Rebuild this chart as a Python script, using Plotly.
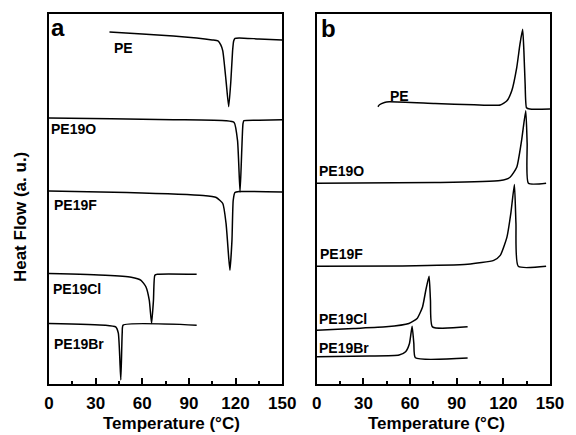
import plotly.graph_objects as go

# ---- data (temperature in degC, heat flow in arbitrary units, offset stacked) ----
# Panel a (heating/melting, endothermic dips)
a_PE_T = [38.9, 60, 80, 95, 105, 108.7, 110.5, 111.8, 113.9, 115.6, 117, 118.1, 118.8, 119.7, 122.3, 135, 150]
a_PE_H = [353, 351, 349, 347, 345, 344, 340, 334, 304, 278, 304, 334, 344, 346.5, 347, 346, 345]
a_PE19O_T = [0, 40, 80, 113.9, 119.1, 121.3, 122.9, 124.0, 124.8, 125.4, 135, 150]
a_PE19O_H = [266.7, 266, 265, 264, 262.3, 244, 192.3, 234, 261, 264, 264.5, 265]
a_PE19F_T = [0, 50, 99.2, 107.6, 111.8, 113.9, 115.6, 116.4, 117.7, 118.5, 119.6, 122.3, 150]
a_PE19F_H = [193.5, 192, 189, 187, 181, 161, 127, 114, 144, 184, 192, 193, 192.5]
a_PE19Cl_T = [0, 36.2, 52.9, 59.2, 62.4, 64.5, 66.0, 67.2, 68.1, 69.8, 95]
a_PE19Cl_H = [110.7, 109, 107, 104, 97.3, 84, 60.7, 84, 109, 110, 110]
a_PE19Br_T = [0, 36.2, 42.9, 44.6, 46.2, 47.1, 47.7, 95]
a_PE19Br_H = [60.7, 59, 57.3, 51, 4, 51, 59, 59]

# Panel b (cooling/crystallization, exothermic peaks)
b_PE_T = [39.3, 40.3, 43.5, 46.6, 76, 101.2, 118, 122.3, 125.4, 128.6, 130.7, 132.4, 133.2, 134, 134.9, 137, 150]
b_PE_H = [278, 280, 282.3, 283, 281.3, 280, 279.7, 284, 294, 317.3, 341, 355.7, 334, 301, 277, 275.7, 275.7]
b_PE19O_T = [0, 76, 118, 124.3, 128.6, 131.7, 134.4, 135.3, 136.1, 147.5]
b_PE19O_H = [201.3, 202, 204, 207.3, 217.3, 244, 274, 241, 201.3, 201.3]
b_PE19F_T = [0, 55, 97, 113.8, 118, 122.3, 124.8, 127.1, 128.1, 129.6, 147.5]
b_PE19F_H = [118, 118.3, 120, 124, 129, 147.3, 171, 200, 161, 118, 118]
b_PE19Cl_T = [0, 23.5, 44.5, 59.2, 64.5, 68, 70.1, 72.2, 73.1, 74.4, 97]
b_PE19Cl_H = [54, 55.7, 57.3, 60.7, 65.7, 77.3, 94, 108, 84, 57.3, 57.3]
b_PE19Br_T = [0, 34, 52.9, 57.1, 59.6, 61.3, 62.4, 63.4, 97]
b_PE19Br_H = [27.3, 28, 29, 32.3, 40.7, 58, 40.7, 26.3, 26]

x_ticks = [0, 30, 60, 90, 120, 150]

# label text and anchor positions
a_labels = ["PE", "PE19O", "PE19F", "PE19Cl", "PE19Br"]
a_label_T = [47.8, 0.2, 2.1, 1.5, 2.1]
a_label_H = [337, 255.7, 179, 95, 40]
b_labels = ["PE", "PE19O", "PE19F", "PE19Cl", "PE19Br"]
b_label_T = [52.9, 0.4, 0.8, 0.4, 0.4]
b_label_H = [289, 214, 130, 64.7, 35.7]

FONT = "Liberation Sans, Arial, sans-serif"

fig = go.Figure()
line = dict(color="black", width=1.5, shape="spline", smoothing=0.5)

for T, H in [(a_PE_T, a_PE_H), (a_PE19O_T, a_PE19O_H), (a_PE19F_T, a_PE19F_H),
             (a_PE19Cl_T, a_PE19Cl_H), (a_PE19Br_T, a_PE19Br_H)]:
    fig.add_trace(go.Scatter(x=T, y=H, mode="lines", line=line, xaxis="x", yaxis="y",
                             showlegend=False, hoverinfo="skip"))
for T, H in [(b_PE_T, b_PE_H), (b_PE19O_T, b_PE19O_H), (b_PE19F_T, b_PE19F_H),
             (b_PE19Cl_T, b_PE19Cl_H), (b_PE19Br_T, b_PE19Br_H)]:
    fig.add_trace(go.Scatter(x=T, y=H, mode="lines", line=line, xaxis="x2", yaxis="y2",
                             showlegend=False, hoverinfo="skip"))

xax = dict(range=[0, 150], tickvals=x_ticks, ticks="inside", ticklen=6, tickwidth=1.5,
           tickcolor="black", showline=True, linecolor="black", linewidth=2, mirror=True,
           showgrid=False, zeroline=False, ticklabelstandoff=3,
           tickfont=dict(family=FONT, size=17, color="black", weight="bold"),
           minor=dict(dtick=15, tick0=0, ticks="inside", ticklen=3, tickwidth=1.5, tickcolor="black"))
yax = dict(range=[0, 371], showticklabels=False, ticks="", showline=True, linecolor="black",
           linewidth=2, mirror=True, showgrid=False, zeroline=False)

fig.update_layout(
    width=576, height=435,
    margin=dict(l=49, r=15, t=13, b=51),
    paper_bgcolor="white", plot_bgcolor="white",
    xaxis=dict(domain=[0, 0.4654], anchor="y", **xax),
    yaxis=dict(domain=[0, 1], anchor="x", **yax),
    xaxis2=dict(domain=[0.5346, 1], anchor="y2", **xax),
    yaxis2=dict(domain=[0, 1], anchor="x2", **yax),
)

ann = []
lab_font = dict(family=FONT, size=14, color="black", weight="bold")
for i, (t, x, y) in enumerate(zip(a_labels, a_label_T, a_label_H)):
    ann.append(dict(text=t, x=x, y=y, xref="x", yref="y", showarrow=False,
                    xanchor="center" if i == 0 else "left", yanchor="middle", font=lab_font))
for i, (t, x, y) in enumerate(zip(b_labels, b_label_T, b_label_H)):
    ann.append(dict(text=t, x=x, y=y, xref="x2", yref="y2", showarrow=False,
                    xanchor="center" if i == 0 else "left", yanchor="middle", font=lab_font))
panel_font = dict(family=FONT, size=24, color="black", weight="bold")
ann.append(dict(text="a", x=5.5, y=357, xref="x", yref="y", showarrow=False, font=panel_font))
ann.append(dict(text="b", x=7.8, y=356, xref="x2", yref="y2", showarrow=False, font=panel_font))

title_font = dict(family=FONT, size=17, color="black", weight="bold")
ann.append(dict(text="Temperature (°C)", x=(174 - 49) / 512, y=(384 - 424) / 371,
                xref="paper", yref="paper", showarrow=False, xanchor="center",
                yanchor="middle", font=title_font))
ann.append(dict(text="Temperature (°C)", x=(445 - 49) / 512, y=(384 - 424) / 371,
                xref="paper", yref="paper", showarrow=False, xanchor="center",
                yanchor="middle", font=title_font))
ann.append(dict(text="Heat Flow (a. u.)", x=(20 - 49) / 512, y=(384 - 217) / 371,
                xref="paper", yref="paper", showarrow=False, xanchor="center",
                yanchor="middle", textangle=-90,
                font=dict(family=FONT, size=17, color="black", weight="bold")))
fig.update_layout(annotations=ann)

fig.write_html("out.html")
